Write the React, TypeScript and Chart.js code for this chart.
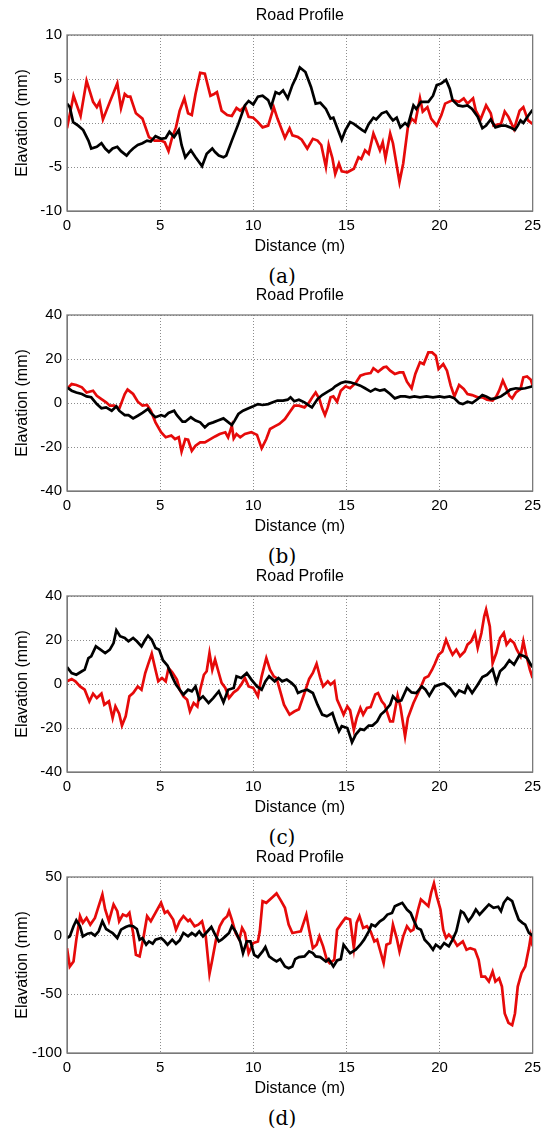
import React, { useEffect, useRef } from 'react';
import { Chart, registerables } from 'chart.js';

Chart.register(...registerables);

// ---------------- Data ----------------
const xTicks = [0, 5, 10, 15, 20, 25];

// Panel (a)
const aRedX = [
  0, 0.35, 0.73, 1.05, 1.4, 1.6, 1.75, 1.93, 2.3, 2.7,
  2.9, 3.1, 3.25, 3.4, 3.7, 4.05, 4.4, 4.7, 5.05, 5.25,
  5.45, 5.65, 5.85, 6.05, 6.3, 6.5, 6.7, 6.9, 7.15, 7.4,
  7.7, 7.9, 8.05, 8.3, 8.6, 8.85, 9.1, 9.3, 9.55, 9.75,
  10, 10.25, 10.5, 10.8, 11.1, 11.3, 11.7, 11.95, 12.1, 12.4,
  12.6, 12.9, 13.2, 13.45, 13.65, 13.9, 14.05, 14.25, 14.4, 14.6,
  14.75, 15.05, 15.4, 15.65, 15.8, 16, 16.2, 16.45, 16.6, 16.8,
  16.95, 17.1, 17.35, 17.5, 17.85, 18.05, 18.3, 18.5, 18.7, 18.95,
  19.1, 19.35, 19.55, 19.85, 20.1, 20.3, 20.7, 21.05, 21.3, 21.5,
  21.8, 21.95, 22.2, 22.5, 22.75, 22.9, 23.3, 23.5, 23.7, 24,
  24.3, 24.5, 24.75, 25,
];
const aRedY = [
  -0.6, 3.1, 0.8, 4.8, 2.4, 1.8, 2.4, 0.4, 2.4, 4.5,
  1.7, 3.3, 3.0, 3.0, 1.1, 0.5, -1.6, -2.0, -2.0, -2.2,
  -3.2, -1.6, -0.5, 1.4, 2.8, 1.1, 0.9, 3.3, 5.7, 5.6,
  3.1, 3.3, 3.5, 1.4, 0.9, 0.8, 1.7, 1.4, 1.9, 0.7,
  0.6, 0.1, -0.5, -0.3, 1.8, 0.5, -1.7, -0.6, -1.4, -1.6,
  -1.9, -2.9, -1.8, -2.0, -2.5, -5.0, -2.5, -4.0, -5.8, -4.6,
  -5.5, -5.6, -5.2, -3.9, -4.1, -3.1, -3.5, -1.2, -2.0, -3.1,
  -2.2, -4.0, -1.2, -2.3, -6.7, -4.6, -0.5, 0.5, 0.1, 2.8,
  1.3, 1.8, 0.5, -0.3, 0.9, 2.2, 2.6, 2.4, 2.8, 2.2,
  2.8, 1.4, 0.4, 2.0, 1.1, -0.3, -0.1, 1.3, 0.7, -0.7,
  1.4, 1.8, 0.3, -0.1,
];
const aBlackX = [
  0, 0.15, 0.33, 0.6, 0.87, 1.15, 1.3, 1.6, 1.85, 2.05,
  2.25, 2.45, 2.7, 2.9, 3.2, 3.35, 3.55, 3.8, 4.05, 4.3,
  4.5, 4.75, 5.05, 5.3, 5.5, 5.75, 6, 6.15, 6.35, 6.65,
  6.9, 7.25, 7.5, 7.8, 7.95, 8.15, 8.4, 8.55, 8.85, 9.2,
  9.55, 9.75, 10, 10.25, 10.5, 10.8, 10.95, 11.2, 11.4, 11.6,
  11.85, 12.1, 12.3, 12.5, 12.8, 13.1, 13.35, 13.6, 13.9, 14.15,
  14.3, 14.55, 14.75, 14.95, 15.2, 15.4, 15.65, 15.85, 16, 16.2,
  16.45, 16.6, 16.9, 17.15, 17.35, 17.5, 17.7, 17.9, 18.15, 18.3,
  18.6, 18.75, 19, 19.4, 19.65, 19.85, 20.1, 20.35, 20.55, 20.7,
  21, 21.25, 21.5, 21.75, 22.05, 22.3, 22.5, 22.75, 23, 23.3,
  23.55, 23.8, 24.05, 24.2, 24.35, 24.5, 24.75, 25,
];
const aBlackY = [
  2.2, 1.8, 0.1, -0.3, -0.8, -2.0, -2.9, -2.7, -2.3, -2.9,
  -3.3, -2.9, -2.7, -3.2, -3.7, -3.3, -2.9, -2.5, -2.3, -2.0,
  -2.1, -1.5, -1.8, -1.7, -1.0, -1.6, -0.8, -2.5, -3.9, -3.1,
  -3.9, -4.9, -3.5, -2.9, -3.3, -3.7, -3.9, -3.7, -2.0, -0.1,
  2.0, 2.5, 2.1, 3.0, 3.1, 2.6, 1.8, 3.5, 3.3, 3.7,
  2.8, 4.3, 5.2, 6.3, 5.8, 4.1, 2.2, 2.3, 1.6, 0.5,
  0.6, -0.8, -1.9, -0.8, 0.1, -0.1, -0.5, -0.8, -1.0, -0.1,
  0.6, 0.4, 1.1, 1.3, 0.7, 0.3, 0.6, -0.5, 0, -0.3,
  2.0, 1.6, 2.4, 2.4, 3.1, 4.3, 4.5, 4.9, 3.9, 2.6,
  2.0, 1.9, 2.0, 1.6, 0.7, -0.6, -0.3, 0.4, -0.5, -0.3,
  -0.3, -0.5, -0.8, -0.3, 0.3, 0, 0.8, 1.5,
];

// Panel (b)
const bRedX = [
  0, 0.25, 0.5, 0.8, 1.05, 1.4, 1.6, 1.85, 2.1, 2.3,
  2.55, 2.8, 3.1, 3.25, 3.55, 3.8, 4.05, 4.3, 4.5, 4.75,
  5.05, 5.3, 5.6, 5.8, 6, 6.15, 6.35, 6.5, 6.7, 6.9,
  7.15, 7.4, 7.7, 7.95, 8.2, 8.5, 8.65, 8.85, 8.95, 9.1,
  9.3, 9.55, 9.9, 10.2, 10.45, 10.7, 10.9, 11.15, 11.4, 11.7,
  11.95, 12.2, 12.45, 12.75, 13, 13.2, 13.35, 13.55, 13.7, 13.85,
  14, 14.15, 14.3, 14.5, 14.7, 14.95, 15.2, 15.5, 15.75, 16,
  16.3, 16.45, 16.7, 17, 17.15, 17.35, 17.6, 17.85, 18.05, 18.25,
  18.5, 18.7, 18.95, 19.15, 19.4, 19.6, 19.8, 19.95, 20.2, 20.4,
  20.6, 20.8, 21.05, 21.3, 21.5, 21.75, 22.05, 22.3, 22.55, 22.85,
  23.05, 23.2, 23.4, 23.6, 23.75, 23.9, 24.1, 24.35, 24.5, 24.7,
  24.9, 25,
];
const bRedY = [
  6.4, 8.6, 8.2, 7.1, 4.8, 5.6, 3.3, 1.8, 0.3, -1.2,
  -1.2, -2.7, 4.1, 6.1, 4.1, 0.6, -1.2, -0.9, -3.5, -8.8,
  -13.3, -15.6, -14.8, -16.4, -15.6, -22.1, -16.4, -16.7, -21.7, -19.4,
  -17.9, -17.9, -16.4, -15.2, -14.1, -13.3, -15.6, -10.3, -16.1, -14.1,
  -15.6, -14.1, -13.3, -14.5, -20.6, -16.4, -11.8, -10.6, -9.5, -7.3,
  -4.2, -1.2, -1.2, -2.0, 0.3, 3.0, 4.8, 1.8, -2.4, -5.5,
  -2.0, 2.6, 3.0, 0.6, 5.6, 7.6, 6.7, 9.1, 12.4, 13.2,
  13.6, 15.8, 14.2, 16.2, 16.5, 14.7, 13.2, 13.9, 13.9, 9.7,
  6.7, 13.2, 18.5, 17.7, 23.0, 23.0, 21.5, 15.5, 17.7, 14.7,
  7.9, 3.0, 8.2, 6.4, 4.1, 3.6, 2.6, 2.6, 1.5, 1.1,
  3.0, 5.6, 10.2, 6.4, 3.3, 2.1, 4.8, 6.4, 11.7, 12.1,
  10.6, 7.9,
];
const bBlackX = [
  0, 0.25, 0.5, 0.8, 1.05, 1.3, 1.6, 1.85, 2.1, 2.4,
  2.65, 2.8, 3.1, 3.3, 3.55, 3.8, 4.05, 4.35, 4.5, 4.75,
  5.05, 5.25, 5.45, 5.75, 5.9, 6.2, 6.35, 6.65, 6.9, 7.15,
  7.4, 7.6, 7.85, 8.1, 8.4, 8.55, 8.85, 9, 9.2, 9.45,
  9.75, 10, 10.25, 10.5, 10.8, 11.05, 11.3, 11.6, 11.85, 12,
  12.2, 12.45, 12.75, 13, 13.15, 13.45, 13.7, 14, 14.25, 14.4,
  14.7, 14.95, 15.2, 15.5, 15.75, 16, 16.3, 16.55, 16.8, 17.05,
  17.35, 17.6, 17.9, 18.15, 18.4, 18.65, 18.95, 19.3, 19.65, 20,
  20.25, 20.55, 20.8, 21.05, 21.25, 21.5, 21.75, 22.05, 22.3, 22.5,
  22.75, 23, 23.3, 23.55, 23.8, 24.1, 24.35, 24.6, 25,
];
const bBlackY = [
  7.1, 5.6, 4.8, 4.1, 3.0, 2.6, -0.5, -2.4, -2.0, -3.5,
  -1.5, -3.5, -5.5, -5.5, -7.0, -5.8, -4.5, -2.7, -4.5, -6.5,
  -5.5, -6.1, -4.5, -3.5, -5.5, -8.5, -8.5, -6.5, -8.0, -8.8,
  -11.1, -9.5, -8.8, -8.0, -7.0, -8.0, -10.0, -8.0, -5.0, -3.5,
  -2.4, -1.5, -0.5, -0.9, -0.5, 0.3, 1.1, 1.1, 1.5, 2.6,
  0.8, 1.5, 0.3, -1.2, -2.0, 1.8, 3.6, 5.2, 6.4, 7.6,
  9.1, 9.7, 9.4, 8.6, 7.9, 6.7, 5.2, 6.4, 5.6, 6.1,
  4.1, 2.1, 3.0, 3.0, 2.6, 3.0, 2.6, 3.0, 2.6, 3.0,
  2.6, 3.0, 2.1, 0, -0.5, 0.6, 0, 1.8, 3.6, 3.0,
  1.8, 2.1, 3.0, 4.5, 6.1, 6.7, 6.4, 6.7, 7.6,
];

// Panel (c)
const cRedX = [
  0, 0.25, 0.45, 0.7, 0.95, 1.2, 1.4, 1.6, 1.85, 2,
  2.25, 2.45, 2.6, 2.8, 2.95, 3.15, 3.35, 3.55, 3.8, 4,
  4.2, 4.35, 4.55, 4.75, 4.9, 5.1, 5.3, 5.45, 5.65, 5.9,
  6.05, 6.25, 6.45, 6.6, 6.8, 7, 7.15, 7.35, 7.5, 7.65,
  7.8, 7.95, 8.15, 8.3, 8.5, 8.7, 8.95, 9.15, 9.35, 9.55,
  9.75, 10, 10.25, 10.45, 10.7, 10.9, 11.1, 11.25, 11.45, 11.65,
  11.95, 12.2, 12.45, 12.75, 13, 13.2, 13.4, 13.6, 13.75, 14,
  14.15, 14.35, 14.5, 14.7, 14.85, 15.05, 15.2, 15.4, 15.55, 15.75,
  15.9, 16.1, 16.3, 16.55, 16.7, 16.9, 17.05, 17.35, 17.5, 17.75,
  17.9, 18.15, 18.3, 18.6, 18.85, 19.05, 19.2, 19.4, 19.6, 19.75,
  19.95, 20.15, 20.35, 20.55, 20.7, 20.9, 21.1, 21.35, 21.5, 21.7,
  21.9, 22.05, 22.25, 22.4, 22.5, 22.7, 22.85, 23.05, 23.25, 23.45,
  23.6, 23.8, 24, 24.15, 24.35, 24.5, 24.65, 24.85, 25,
];
const cRedY = [
  1.2, 2.3, 1.2, -1.1, -2.6, -7.9, -4.4, -6.4, -4.4, -9.4,
  -7.9, -15.5, -10.2, -13.5, -18.9, -14.7, -5.6, -4.1, -1.1, -2.6,
  5.0, 8.8, 13.8, 6.5, 1.2, 2.7, 1.2, 7.3, 5.3, 2.0,
  -2.6, -5.6, -7.1, -12.4, -8.6, -10.2, -2.6, 4.2, 5.8, 14.1,
  6.5, 11.1, 5.0, 0.5, -1.8, -6.4, -3.8, -2.6, -0.3, 2.7,
  -1.1, -1.8, -5.6, 3.5, 11.8, 6.5, 3.5, 2.7, -3.3, -9.4,
  -13.9, -12.5, -11.5, -4.1, 2.3, 5.0, 9.2, 2.7, -1.1, 1.2,
  -0.3, 1.2, -7.1, -10.9, -13.9, -10.2, -12.0, -20.8, -15.5, -10.9,
  -13.9, -10.9, -10.5, -4.8, -4.1, -7.9, -9.4, -17.0, -17.0, -5.3,
  -10.2, -23.8, -15.5, -8.6, -4.1, -0.3, 2.7, 3.5, 6.5, 9.2,
  13.3, 14.8, 20.1, 15.9, 13.3, 15.6, 12.6, 14.8, 17.9, 19.4,
  23.2, 16.4, 23.2, 30.8, 33.8, 26.2, 9.5, 14.1, 20.9, 23.2,
  17.9, 20.1, 18.6, 15.6, 12.6, 19.4, 13.3, 6.5, 2.7,
];
const cBlackX = [
  0, 0.25, 0.5, 0.8, 0.95, 1.15, 1.3, 1.55, 1.8, 2.05,
  2.3, 2.5, 2.65, 2.85, 3.1, 3.3, 3.55, 3.75, 4, 4.2,
  4.35, 4.55, 4.75, 4.95, 5.15, 5.4, 5.65, 5.85, 6.05, 6.25,
  6.5, 6.7, 6.9, 7.1, 7.3, 7.6, 7.85, 8.15, 8.4, 8.65,
  8.95, 9.1, 9.35, 9.65, 9.9, 10.2, 10.45, 10.65, 10.85, 11.15,
  11.35, 11.55, 11.8, 12.05, 12.25, 12.4, 12.6, 12.9, 13.2, 13.45,
  13.7, 13.95, 14.25, 14.4, 14.6, 14.75, 15.05, 15.2, 15.3, 15.5,
  15.75, 15.95, 16.2, 16.4, 16.65, 16.85, 17.05, 17.35, 17.5, 17.75,
  17.95, 18.25, 18.5, 18.75, 19.05, 19.25, 19.45, 19.75, 20, 20.25,
  20.55, 20.85, 21.05, 21.35, 21.5, 21.75, 22.05, 22.3, 22.55, 22.85,
  23.05, 23.25, 23.5, 23.75, 24, 24.3, 24.55, 24.7, 24.9, 25,
];
const cBlackY = [
  7.7, 5.0, 4.2, 5.8, 6.5, 11.8, 12.6, 17.1, 15.6, 14.1,
  15.6, 18.6, 24.4, 21.7, 20.9, 19.4, 20.9, 19.4, 17.1, 20.1,
  22.0, 20.1, 16.4, 15.6, 10.8, 8.3, 3.2, -0.3, -2.6, -4.8,
  -2.6, -3.3, -1.1, -7.1, -5.6, -8.6, -6.4, -3.3, -8.3, -2.6,
  -1.8, 3.5, 2.7, 5.0, 2.0, -1.1, -2.6, 1.2, 3.5, 1.2,
  2.7, 1.2, 2.0, 0.5, -1.1, -4.1, -3.3, -2.6, -4.1, -9.4,
  -13.9, -14.7, -13.2, -17.0, -21.5, -19.2, -20.0, -23.8, -26.5, -23.0,
  -20.5, -20.9, -18.9, -18.9, -17.0, -13.9, -12.4, -9.4, -5.6, -7.9,
  -7.4, -1.8, -3.8, -4.1, -1.1, -2.6, -5.3, -1.1, -0.3, 0.2,
  -1.8, -5.3, -2.9, -4.1, -0.8, -4.1, -0.3, 3.2, 4.2, 6.8,
  0.8, 5.8, 7.7, 10.8, 8.8, 13.3, 12.6, 11.8, 8.8, 7.7,
];

// Panel (d)
const dRedX = [
  0, 0.15, 0.35, 0.5, 0.7, 0.85, 1.05, 1.25, 1.5, 1.7,
  1.9, 2.05, 2.25, 2.5, 2.7, 2.8, 3, 3.2, 3.35, 3.55,
  3.7, 3.9, 4.1, 4.3, 4.5, 4.8, 5.05, 5.25, 5.4, 5.7,
  5.85, 6.05, 6.25, 6.5, 6.6, 6.85, 7.05, 7.25, 7.45, 7.65,
  7.8, 8, 8.2, 8.4, 8.6, 8.7, 8.85, 9.05, 9.25, 9.4,
  9.55, 9.75, 10, 10.25, 10.35, 10.5, 10.7, 11, 11.25, 11.5,
  11.7, 11.9, 12.1, 12.3, 12.55, 12.85, 13, 13.2, 13.4, 13.55,
  13.75, 13.95, 14.1, 14.35, 14.5, 14.75, 14.95, 15.2, 15.4, 15.55,
  15.7, 15.9, 16.1, 16.3, 16.5, 16.65, 16.8, 17, 17.15, 17.35,
  17.5, 17.7, 17.85, 18.05, 18.25, 18.45, 18.6, 18.85, 19, 19.2,
  19.4, 19.55, 19.7, 19.85, 20.05, 20.2, 20.35, 20.5, 20.75, 20.95,
  21.25, 21.45, 21.65, 21.9, 22.1, 22.25, 22.45, 22.65, 22.85, 23,
  23.2, 23.35, 23.5, 23.7, 23.9, 24.05, 24.2, 24.4, 24.6, 24.8,
  24.9, 25,
];
const dRedY = [
  -10.6, -26.3, -22.0, -3.4, 16.6, 10.9, 15.1, 9.4, 15.1, 25.1,
  35.1, 22.3, 12.3, 26.6, 20.9, 12.3, 18.0, 16.6, 19.4, 2.3,
  -16.3, -17.7, -2.0, 16.6, 12.3, 20.9, 28.0, 19.4, 20.9, 13.7,
  5.1, 12.3, 16.6, 12.3, 13.7, 8.0, 9.4, 12.3, -0.6, -32.6,
  -20.6, -3.4, 8.0, 13.7, 16.6, 20.9, 13.7, 2.3, -3.4, 6.6,
  2.3, -14.9, -6.3, -4.9, 3.7, 29.4, 28.0, 32.3, 36.0, 29.4,
  23.7, 9.4, 2.3, 2.9, 3.7, 18.0, 5.1, -10.6, -7.7, -0.6,
  -9.1, -20.6, -23.4, -20.6, 5.1, 10.9, 15.1, 13.7, -10.6, 10.9,
  16.6, 6.6, 8.0, 3.7, -4.9, -3.4, -12.0, -23.4, -7.7, -6.3,
  9.4, -2.0, -13.4, -0.6, 8.0, 3.7, 5.1, 22.3, 30.9, 28.0,
  25.1, 36.6, 44.6, 33.7, 22.3, 5.1, -2.0, 0.9, -3.4, -8.6,
  -4.9, -12.0, -10.6, -12.0, -20.6, -34.9, -34.9, -39.1, -30.6, -39.1,
  -36.3, -43.4, -66.3, -74.3, -76.3, -66.3, -43.4, -32.0, -26.3, -10.6,
  -0.6, -9.1,
];
const dBlackX = [
  0, 0.15, 0.35, 0.5, 0.7, 0.85, 1.1, 1.3, 1.5, 1.7,
  1.9, 2.1, 2.3, 2.45, 2.7, 2.9, 3.15, 3.35, 3.55, 3.75,
  3.9, 4.05, 4.25, 4.4, 4.6, 4.75, 5.05, 5.2, 5.4, 5.65,
  5.85, 6.05, 6.25, 6.5, 6.7, 6.9, 7.1, 7.3, 7.5, 7.75,
  7.95, 8.15, 8.3, 8.5, 8.7, 8.85, 9.05, 9.3, 9.45, 9.65,
  9.85, 10.05, 10.25, 10.5, 10.65, 10.85, 11.05, 11.25, 11.45, 11.7,
  11.9, 12.1, 12.25, 12.45, 12.75, 13, 13.2, 13.35, 13.6, 13.9,
  14.05, 14.3, 14.5, 14.7, 14.85, 15.05, 15.2, 15.5, 15.75, 15.95,
  16.2, 16.35, 16.55, 16.8, 17, 17.2, 17.45, 17.6, 17.8, 18,
  18.25, 18.45, 18.6, 18.8, 19, 19.2, 19.45, 19.65, 19.8, 20.05,
  20.25, 20.5, 20.7, 20.9, 21.15, 21.3, 21.55, 21.75, 21.95, 22.15,
  22.4, 22.65, 22.9, 23.15, 23.3, 23.45, 23.65, 23.9, 24.05, 24.25,
  24.45, 24.6, 24.8, 25,
];
const dBlackY = [
  -2.0, -0.6, 8.0, 13.1, 8.0, -0.6, 1.7, 2.3, 0, 3.7,
  12.3, 5.7, 3.7, 2.3, -2.0, 5.1, 7.4, 8.6, 8.0, 5.7,
  -3.4, -2.0, -7.7, -4.9, -6.9, -3.4, -2.0, -4.0, -7.7, -3.4,
  -6.9, -4.0, 2.3, -0.6, 2.3, 0, 3.7, -0.6, 2.9, 7.4,
  0.9, -4.9, -3.4, -0.6, 2.3, 8.0, 3.7, -4.9, -14.9, -4.9,
  -4.9, -16.3, -18.3, -13.4, -9.7, -17.7, -20.0, -22.0, -20.0, -26.3,
  -27.7, -26.3, -20.0, -18.3, -17.7, -13.4, -14.9, -17.7, -18.3, -22.0,
  -20.0, -26.3, -21.1, -20.0, -7.7, -12.0, -14.9, -12.0, -7.7, -3.4,
  3.7, 9.4, 8.0, 12.3, 14.3, 18.0, 19.4, 25.1, 26.6, 28.0,
  22.3, 19.4, 13.7, 6.6, 5.1, -3.4, -7.7, -12.0, -7.7, -10.6,
  -6.3, -9.1, -3.4, 3.7, 20.9, 19.4, 12.3, 16.6, 22.3, 18.0,
  22.3, 26.6, 23.7, 24.6, 20.9, 28.0, 32.3, 29.4, 22.3, 13.7,
  10.9, 9.4, 2.3, 0,
];

// Y-axis tick definitions per panel
const aYTicks = [-10, -5, 0, 5, 10];
const bYTicks = [-40, -20, 0, 20, 40];
const cYTicks = [-40, -20, 0, 20, 40];
const dYTicks = [-100, -50, 0, 50];

const captions = ['(a)', '(b)', '(c)', '(d)'];

// ---------------- Styling / layout ----------------
const RED = '#e60a0a';
const BLACK = '#000000';
const SANS = '"Liberation Sans", Arial, Helvetica, sans-serif';
const PANEL_TOPS = [0, 280, 561, 842];
const CANVAS_H = 260;

function zip(xs: number[], ys: number[]) {
  const n = Math.min(xs.length, ys.length);
  const out: { x: number; y: number }[] = [];
  for (let i = 0; i < n; i++) out.push({ x: xs[i], y: ys[i] });
  return out;
}

const boxPlugin = {
  id: 'axesBox',
  afterDraw(chart: any) {
    const { ctx, chartArea } = chart;
    const { left, top, right, bottom } = chartArea;
    ctx.save();
    ctx.strokeStyle = '#7a7a7a';
    ctx.lineWidth = 1.3;
    ctx.strokeRect(left, top, right - left, bottom - top);
    ctx.restore();
  },
};

type PanelProps = {
  redX: number[];
  redY: number[];
  blackX: number[];
  blackY: number[];
  yTicks: number[];
  top: number;
  caption: string;
};

function Panel({ redX, redY, blackX, blackY, yTicks, top, caption }: PanelProps) {
  const ref = useRef<HTMLCanvasElement | null>(null);

  useEffect(() => {
    if (!ref.current) return;
    const yMin = yTicks[0];
    const yMax = yTicks[yTicks.length - 1];
    const yStep = yTicks[1] - yTicks[0];
    const chart = new Chart(ref.current, {
      type: 'line',
      data: {
        datasets: [
          {
            label: 'black',
            data: zip(blackX, blackY),
            borderColor: BLACK,
            borderWidth: 2.7,
            pointRadius: 0,
            fill: false,
            tension: 0,
          },
          {
            label: 'red',
            data: zip(redX, redY),
            borderColor: RED,
            borderWidth: 2.7,
            pointRadius: 0,
            fill: false,
            tension: 0,
          },
        ],
      },
      options: {
        responsive: false,
        animation: false,
        events: [],
        layout: { padding: { left: 0, right: 10, top: 0, bottom: 0 } },
        plugins: {
          legend: { display: false },
          tooltip: { enabled: false },
          title: {
            display: true,
            text: 'Road Profile',
            fullSize: false,
            color: '#000',
            font: { family: SANS, size: 16, weight: 'normal' },
            padding: { top: 6.4, bottom: 9.4 },
          },
        },
        scales: {
          x: {
            type: 'linear',
            min: xTicks[0],
            max: xTicks[xTicks.length - 1],
            afterBuildTicks: (scale: any) => {
              scale.ticks = xTicks.map((v) => ({ value: v }));
            },
            ticks: {
              color: '#000',
              padding: 6,
              font: { family: SANS, size: 15 },
              maxRotation: 0,
            },
            grid: { color: '#8c8c8c', lineWidth: 1, drawTicks: false },
            border: { display: true, color: '#7a7a7a', width: 1, dash: [1, 2] },
            title: {
              display: true,
              text: 'Distance (m)',
              color: '#000',
              font: { family: SANS, size: 16 },
              padding: { top: 0, bottom: 3.4 },
            },
            afterFit: (scale: any) => {
              scale.height = 49;
            },
          },
          y: {
            type: 'linear',
            min: yMin,
            max: yMax,
            afterBuildTicks: (scale: any) => {
              scale.ticks = yTicks.map((v) => ({ value: v }));
            },
            ticks: {
              color: '#000',
              padding: 5,
              stepSize: yStep,
              font: { family: SANS, size: 15 },
            },
            grid: { color: '#8c8c8c', lineWidth: 1, drawTicks: false },
            border: { display: true, color: '#7a7a7a', width: 1, dash: [1, 2] },
            title: {
              display: true,
              text: 'Elavation (mm)',
              color: '#000',
              font: { family: SANS, size: 16 },
              padding: { top: 13.4, bottom: 0 },
            },
            afterFit: (scale: any) => {
              scale.width = 67;
            },
          },
        },
      } as any,
      plugins: [boxPlugin],
    });
    return () => chart.destroy();
  }, [redX, redY, blackX, blackY, yTicks]);

  return (
    <>
      <canvas
        ref={ref}
        width={547}
        height={CANVAS_H}
        style={{ position: 'absolute', left: 0, top, width: 547, height: CANVAS_H, display: 'block' }}
      />
      <div
        style={{
          position: 'absolute',
          left: 0,
          top: top + 264,
          width: 564,
          textAlign: 'center',
          fontFamily: '"DejaVu Serif", serif',
          fontSize: 20,
          lineHeight: '24px',
          color: '#000',
        }}
      >
        {caption}
      </div>
    </>
  );
}

export default function App() {
  return (
    <div
      style={{
        position: 'absolute',
        left: 0,
        top: 0,
        width: 547,
        height: 1130,
        background: '#fff',
        overflow: 'hidden',
      }}
    >
      <Panel redX={aRedX} redY={aRedY} blackX={aBlackX} blackY={aBlackY} yTicks={aYTicks} top={PANEL_TOPS[0]} caption={captions[0]} />
      <Panel redX={bRedX} redY={bRedY} blackX={bBlackX} blackY={bBlackY} yTicks={bYTicks} top={PANEL_TOPS[1]} caption={captions[1]} />
      <Panel redX={cRedX} redY={cRedY} blackX={cBlackX} blackY={cBlackY} yTicks={cYTicks} top={PANEL_TOPS[2]} caption={captions[2]} />
      <Panel redX={dRedX} redY={dRedY} blackX={dBlackX} blackY={dBlackY} yTicks={dYTicks} top={PANEL_TOPS[3]} caption={captions[3]} />
    </div>
  );
}
